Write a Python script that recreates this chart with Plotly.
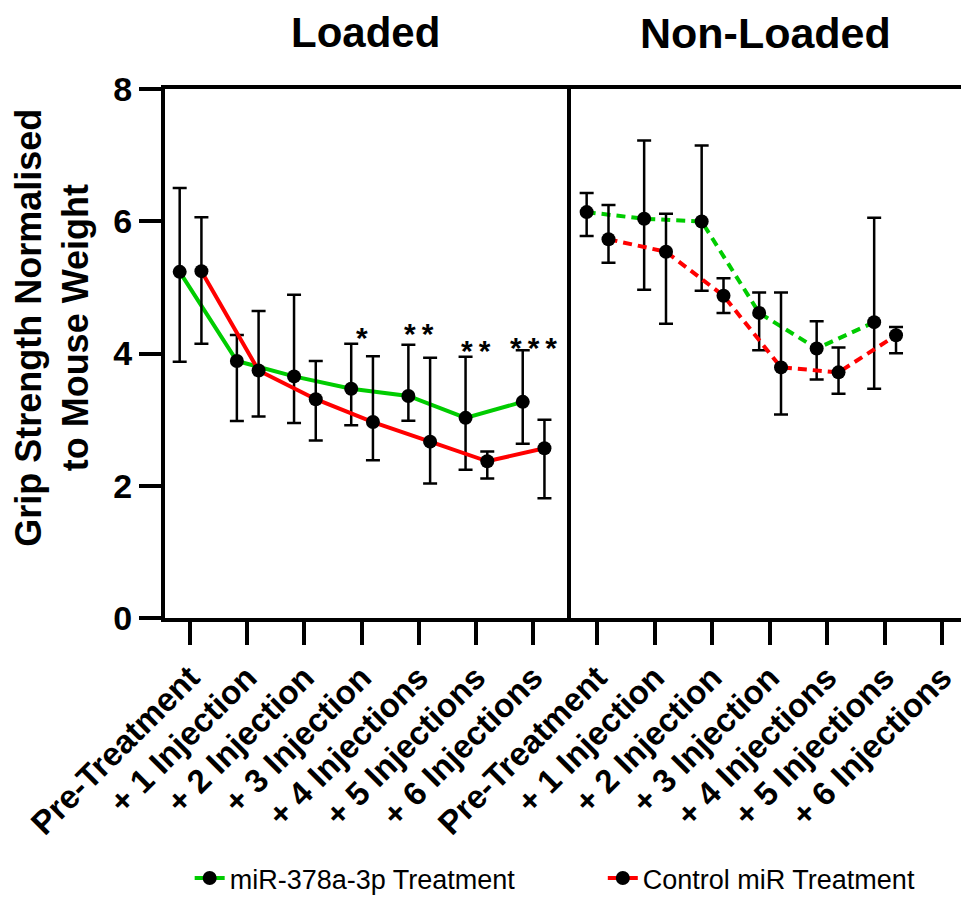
import plotly.graph_objects as go

# ---------------- data ----------------
categories = ["Pre-Treatment", "+ 1 Injection", "+ 2 Injection", "+ 3 Injection",
              "+ 4 Injections", "+ 5 Injections", "+ 6 Injections"]

# Loaded panel
loaded_mir_mean = [5.235, 3.886, 3.654, 3.467, 3.358, 3.027, 3.269]
loaded_mir_upper = [6.504, 4.281, 4.889, 4.148, 4.133, 3.951, 4.049]
loaded_mir_lower = [3.877, 2.978, 2.948, 2.914, 2.983, 2.242, 2.637]
loaded_ctrl_mean = [5.245, 3.743, 3.309, 2.963, 2.667, 2.370, 2.568]
loaded_ctrl_upper = [6.059, 4.642, 3.886, 3.960, 3.936, 2.519, 2.998]
loaded_ctrl_lower = [4.148, 3.047, 2.686, 2.385, 2.035, 2.109, 1.812]

# Non-Loaded panel (no "+ 6 Injections" data)
nonloaded_mir_mean = [6.138, 6.037, 5.997, 4.614, 4.075, 4.474]
nonloaded_mir_upper = [6.427, 7.221, 7.146, 4.924, 4.489, 6.052]
nonloaded_mir_lower = [5.778, 4.964, 4.949, 4.050, 3.606, 3.466]
nonloaded_ctrl_mean = [5.728, 5.538, 4.874, 3.790, 3.715, 4.275]
nonloaded_ctrl_upper = [6.247, 6.112, 5.139, 4.924, 4.090, 4.400]
nonloaded_ctrl_lower = [5.373, 4.449, 4.614, 3.076, 3.390, 4.005]

# significance marks (Loaded panel)
sig_labels = ["*", "**", "**", "***"]
sig_categories = [3, 4, 5, 6]
sig_y = [4.37, 4.42, 4.16, 4.21]

series_names = ["miR-378a-3p Treatment", "Control miR Treatment"]
yticks = [0, 2, 4, 6, 8]

# ---------------- styling ----------------
FONT = "Liberation Sans, Arial, sans-serif"
GREEN = "rgb(0,204,0)"
RED = "rgb(255,0,0)"
OFFSETS = [-0.18, 0.20]


def errs(mean, upper, lower):
    return ([u - m for u, m in zip(upper, mean)],
            [m - l for m, l in zip(mean, lower)])


fig = go.Figure()

panels = [
    ("x", [(loaded_mir_mean, loaded_mir_upper, loaded_mir_lower),
           (loaded_ctrl_mean, loaded_ctrl_upper, loaded_ctrl_lower)], "solid", True),
    ("x2", [(nonloaded_mir_mean, nonloaded_mir_upper, nonloaded_mir_lower),
            (nonloaded_ctrl_mean, nonloaded_ctrl_upper, nonloaded_ctrl_lower)], "9px,6px", False),
]
colors = [GREEN, RED]
legends = ["legend", "legend2"]

for xa, series, dash, show in panels:
    for k, (mean, up, lo) in enumerate(series):
        plus, minus = errs(mean, up, lo)
        xs = [i + OFFSETS[k] for i in range(len(mean))]
        fig.add_trace(go.Scatter(
            x=xs, y=mean, xaxis=xa, yaxis="y",
            mode="lines+markers",
            name=series_names[k],
            line=dict(color=colors[k], width=4, dash=dash),
            marker=dict(color="black", size=14),
            error_y=dict(type="data", symmetric=False, array=plus, arrayminus=minus,
                         color="black", thickness=2.5, width=7),
            showlegend=show,
            legend=legends[k],
        ))

for lab, c, yv in zip(sig_labels, sig_categories, sig_y):
    fig.add_annotation(x=c, y=yv, xref="x", yref="y", text="\u2009".join(lab), showarrow=False,
                       yanchor="middle", yshift=-8,
                       font=dict(family=FONT, size=30, color="black", weight="bold"))

# panel titles
fig.add_annotation(x=0.2525, y=1.1067, xref="paper", yref="paper", text="Loaded",
                   showarrow=False, xanchor="center", yanchor="middle",
                   font=dict(family=FONT, size=42, color="black", weight="bold"))
fig.add_annotation(x=0.7538, y=1.1067, xref="paper", yref="paper", text="Non-Loaded",
                   showarrow=False, xanchor="center", yanchor="middle",
                   font=dict(family=FONT, size=43, color="black", weight="bold"))
# y-axis title
fig.add_annotation(x=-0.142, y=0.5487, xref="paper", yref="paper",
                   text="Grip Strength Normalised<br>to Mouse Weight",
                   textangle=-90, showarrow=False, xanchor="center", yanchor="middle",
                   font=dict(family=FONT, size=36, color="black", weight="bold"))

xcommon = dict(
    tickmode="array", tickvals=list(range(len(categories))), ticktext=categories,
    tickangle=-45, ticks="outside", ticklen=23, tickwidth=4, tickcolor="black",
    showline=True, linewidth=4, linecolor="black", mirror=True,
    showgrid=False, zeroline=False, anchor="y",
    tickfont=dict(family=FONT, size=33, color="black", weight="bold"),
)

fig.update_layout(
    width=961, height=903,
    margin=dict(l=165, r=0, t=89, b=280),
    plot_bgcolor="white", paper_bgcolor="white",
    xaxis=dict(domain=[0, 0.505], range=[-0.437, 6.594], **xcommon),
    xaxis2=dict(domain=[0.505, 1], range=[-0.522, 6.33], **xcommon),
    yaxis=dict(range=[0, 8], tickvals=yticks, ticks="outside", ticklen=22, tickwidth=4,
               tickcolor="black", showline=True, linewidth=4, linecolor="black",
               mirror=True, showgrid=False, zeroline=False,
               tickfont=dict(family=FONT, size=34, color="black", weight="bold")),
    legend=dict(orientation="h", x=0.031, y=-0.4925, xanchor="left", yanchor="middle",
                font=dict(family=FONT, size=27, color="black"), bgcolor="rgba(0,0,0,0)"),
    legend2=dict(orientation="h", x=0.550, y=-0.4925, xanchor="left", yanchor="middle",
                 font=dict(family=FONT, size=27, color="black"), bgcolor="rgba(0,0,0,0)"),
)

fig.write_html("out.html")
